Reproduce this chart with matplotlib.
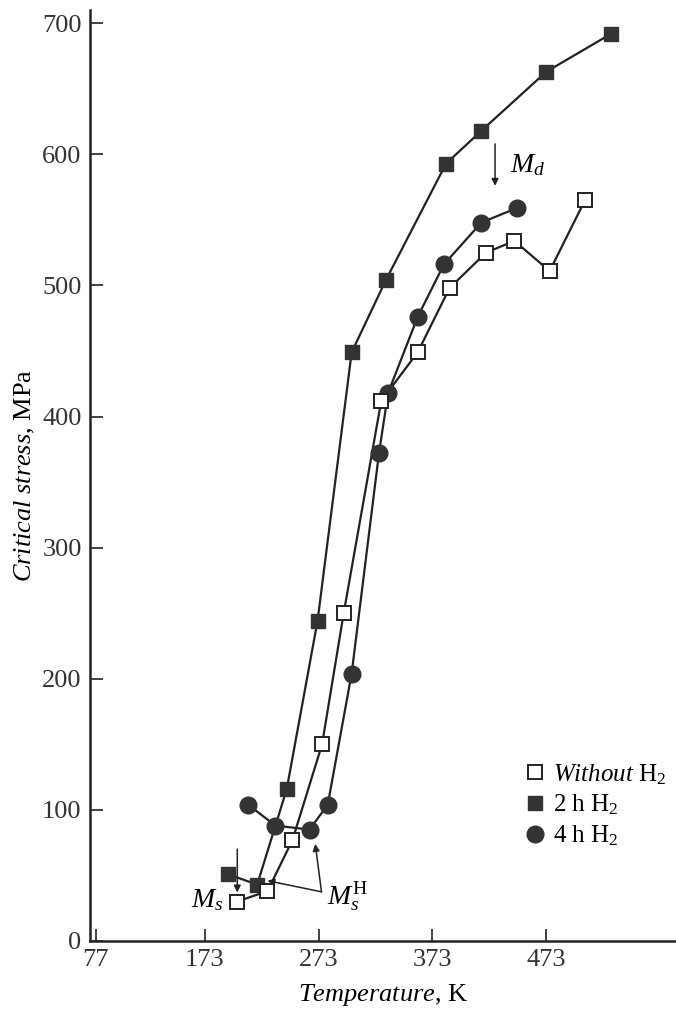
import matplotlib
matplotlib.use("Agg")
import matplotlib.pyplot as plt

plt.rcParams['font.family'] = 'Liberation Serif'
plt.rcParams['mathtext.fontset'] = 'custom'
plt.rcParams['mathtext.rm'] = 'Liberation Serif'
plt.rcParams['mathtext.it'] = 'Liberation Serif:italic'

# without hydrogen (open squares)
t_none = [201, 228, 250, 276, 295, 328, 360, 388, 420, 445, 476, 507]
s_none = [30, 38, 77, 150, 250, 412, 449, 498, 525, 534, 511, 565]

# 2 h H2 (filled squares)
t_2h = [193, 219, 245, 272, 302, 332, 385, 416, 473, 530]
s_2h = [51, 43, 116, 244, 449, 504, 593, 618, 663, 692]

# 4 h H2 (filled circles)
t_4h = [211, 235, 265, 281, 302, 326, 334, 360, 383, 416, 447]
s_4h = [104, 88, 85, 104, 204, 372, 418, 476, 516, 548, 559]

xticks = [77, 173, 273, 373, 473]
yticks = [0, 100, 200, 300, 400, 500, 600, 700]

dark = '#333333'
line = '#222222'

fig = plt.figure(figsize=(6.76, 10.14), dpi=100)
ax = fig.add_axes([0.133, 0.072, 0.867, 0.918])

ax.plot(t_none, s_none, '-', color=line, lw=1.6, zorder=2)
ax.plot(t_2h, s_2h, '-', color=line, lw=1.6, zorder=2)
ax.plot(t_4h, s_4h, '-', color=line, lw=1.6, zorder=2)

ax.plot(t_4h, s_4h, 'o', ms=12, mfc=dark, mec=dark, ls='none', zorder=3, label=r'4 h H$_2$')
ax.plot(t_2h, s_2h, 's', ms=10, mfc=dark, mec=dark, ls='none', zorder=4, label=r'2 h H$_2$')
ax.plot(t_none, s_none, 's', ms=10, mfc='white', mec=line, mew=1.4, ls='none', zorder=5,
        label=r'$\mathit{Without}$ H$_2$')

# annotations
arw = dict(arrowstyle='-|>', color=line, lw=1.1, shrinkA=0, shrinkB=0, mutation_scale=10)
ax.annotate('', xy=(428, 576), xytext=(428, 608), arrowprops=arw)
ax.text(441, 592, r'$M_d$', fontsize=20, va='center', ha='left')

ax.annotate('', xy=(201.5, 37), xytext=(201.5, 70), arrowprops=arw)
ax.text(189, 31, r'$M_s$', fontsize=20, va='center', ha='right')

ax.annotate('', xy=(228, 46), xytext=(275.5, 37.5), arrowprops=arw)
ax.annotate('', xy=(270, 74), xytext=(275.5, 37.5), arrowprops=arw)
ax.text(280, 34, r'$M_s^{\mathrm{H}}$', fontsize=20, va='center', ha='left')

ax.set_xlim(72, 587)
ax.set_ylim(0, 710)
ax.set_xticks(xticks)
ax.set_yticks(yticks)
ax.tick_params(direction='in', length=9, width=1.2, labelsize=19, colors='#222222',
               labelcolor='#333333', pad=6)
for side in ['top', 'right']:
    ax.spines[side].set_visible(False)
for side in ['left', 'bottom']:
    ax.spines[side].set_linewidth(1.8)
    ax.spines[side].set_color('#222222')

ax.set_xlabel(r'$\mathit{Temperature}$, K', fontsize=19, labelpad=8)
ax.set_ylabel(r'$\mathit{Critical\ stress}$, MPa', fontsize=19, labelpad=4)

h, l = ax.get_legend_handles_labels()
ax.legend(h[::-1], l[::-1], loc='center left', bbox_to_anchor=(0.743, 0.146), frameon=False,
          fontsize=18, handlelength=0.8, handletextpad=0.3, labelspacing=0.25,
          borderpad=0, borderaxespad=0)

fig.savefig('out.png', dpi=100)
